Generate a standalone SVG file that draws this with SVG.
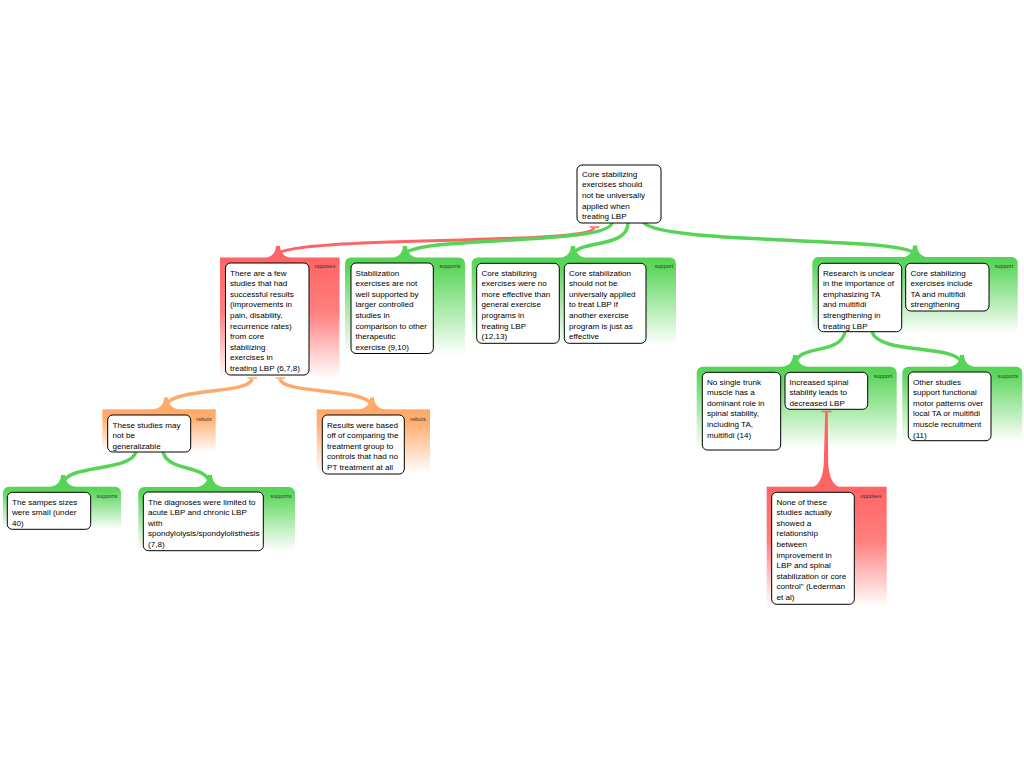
<svg xmlns="http://www.w3.org/2000/svg" width="1024" height="768" viewBox="0 0 1024 768">
<defs>
<linearGradient id="gR" x1="0" y1="0" x2="0" y2="1"><stop offset="0" stop-color="#ff6464"/><stop offset="0.45" stop-color="#ff7f7f"/><stop offset="1" stop-color="#ffffff"/></linearGradient>
<linearGradient id="gG" x1="0" y1="0" x2="0" y2="1"><stop offset="0" stop-color="#55d455"/><stop offset="0.1" stop-color="#5cd65c"/><stop offset="1" stop-color="#ffffff"/></linearGradient>
<linearGradient id="gO" x1="0" y1="0" x2="0" y2="1"><stop offset="0" stop-color="#ffa868"/><stop offset="0.2" stop-color="#ffae70"/><stop offset="1" stop-color="#ffffff"/></linearGradient>
<style>
.n{fill:#fff;stroke:#000;stroke-width:1}
.t{font-family:"Liberation Sans",Arial,sans-serif;font-size:8.1px;fill:#000}
.l{font-family:"Liberation Sans",Arial,sans-serif;font-size:5.5px;fill:#333;text-anchor:middle}
.cr{fill:url(#gR)}.cg{fill:url(#gG)}.co{fill:url(#gO)}
.er{fill:none;stroke:#ff6464;stroke-width:3}
.eg{fill:none;stroke:#55d455;stroke-width:3.5}
.eo{fill:none;stroke:#ffaa6c;stroke-width:3.5}
.fr{fill:#ff6464}.fg{fill:#55d455}.fo{fill:#ffaa6c}
.br{stroke:#ff6464;stroke-width:1.5}.bo{stroke:#ffaa6c;stroke-width:1.5}
</style>
</defs>
<rect width="1024" height="768" fill="#fff"/>

<g id="containers">
<rect class="cr" x="220" y="257.5" width="119.5" height="121"/>
<rect class="cg" x="345" y="257.5" width="120" height="98" rx="6"/>
<rect class="cg" x="471.7" y="257.5" width="204.3" height="88" rx="6"/>
<rect class="cg" x="812.3" y="257" width="205.4" height="77" rx="6"/>
<rect class="co" x="102.3" y="409.3" width="113.4" height="43"/>
<rect class="co" x="316.7" y="409.3" width="113.3" height="65"/>
<rect class="cg" x="3" y="486.7" width="118" height="43" rx="6"/>
<rect class="cg" x="138.3" y="487" width="156.7" height="64" rx="6"/>
<rect class="cg" x="696.7" y="366.7" width="200" height="82" rx="6"/>
<rect class="cg" x="902.3" y="366.7" width="120" height="75" rx="6"/>
<rect class="cr" x="766.7" y="486.7" width="120" height="120"/>
<text class="l" x="325" y="268">opposes</text>
<text class="l" x="450" y="268">supports</text>
<text class="l" x="664" y="268">support</text>
<text class="l" x="1004" y="268">support</text>
<text class="l" x="204" y="421">rebuts</text>
<text class="l" x="418" y="421">rebuts</text>
<text class="l" x="107" y="497.5">supports</text>
<text class="l" x="281" y="497.5">supports</text>
<text class="l" x="883" y="377.5">support</text>
<text class="l" x="1008" y="377.5">supports</text>
<text class="l" x="871" y="497.5">opposes</text>
</g>

<g id="connectors">
<path class="er" d="M594,228 C590,245 290,236 278,254"/>
<path class="fr" d="M262,258.5 Q275.5,257.5 276,246 L280,246 Q280.5,257.5 294,258.5 Z"/>
<line class="br" x1="589.5" y1="227" x2="599.5" y2="227"/>
<path class="eg" d="M612,223 C608,245 415,236 405,254"/>
<path class="fg" d="M389,258.5 Q402.5,257.5 403,246 L407,246 Q407.5,257.5 421,258.5 Z"/>
<path class="eg" d="M628,223 C628,248 580,240 573,254"/>
<path class="fg" d="M557,258.5 Q570.5,257.5 571,246 L575,246 Q575.5,257.5 589,258.5 Z"/>
<path class="eg" d="M643,222 C660,245 905,236 915,254"/>
<path class="fg" d="M899,258 Q912.5,257 913,245.5 L917,245.5 Q917.5,257 931,258 Z"/>
<path class="eo" d="M252,379 C250,394 172,388 166,405"/>
<path class="fo" d="M150,410 Q163.5,409 164,397.5 L168,397.5 Q168.5,409 182,410 Z"/>
<line class="bo" x1="247.5" y1="378" x2="257" y2="378"/>
<path class="eo" d="M280,379 C282,394 366,388 372,405"/>
<path class="fo" d="M356,410 Q369.5,409 370,397.5 L374,397.5 Q374.5,409 388,410 Z"/>
<line class="bo" x1="275.5" y1="378" x2="285" y2="378"/>
<path class="eg" d="M136,452 C130,472 68,464 63,483"/>
<path class="fg" d="M47,487.5 Q60.5,486.5 61,475 L65,475 Q65.5,486.5 79,487.5 Z"/>
<path class="eg" d="M163,452 C168,472 205,464 210,483"/>
<path class="fg" d="M194,487.5 Q207.5,486.5 208,475 L212,475 Q212.5,486.5 226,487.5 Z"/>
<path class="eg" d="M845,332 C840,355 800,344 795,363"/>
<path class="fg" d="M779,367.5 Q792.5,366.5 793,355 L797,355 Q797.5,366.5 811,367.5 Z"/>
<path class="eg" d="M872,332 C880,355 956,344 962,363"/>
<path class="fg" d="M946,367.5 Q959.5,366.5 960,355 L964,355 Q964.5,366.5 978,367.5 Z"/>
<path class="fr" d="M825.2,412 L827.8,412 L828.2,462 Q829,484 840,487.5 L812,487.5 Q823,484 823.8,462 Z"/>
<line class="br" x1="821.5" y1="411.5" x2="831.5" y2="411.5"/>
</g>

<g id="root">
<rect class="n" x="577" y="165" width="84" height="58" rx="5"/>
<text class="t" x="582" y="176.5">Core stabilizing<tspan x="582" dy="10.7">exercises should</tspan><tspan x="582" dy="10.7">not be universally</tspan><tspan x="582" dy="10.7">applied when</tspan><tspan x="582" dy="10.7">treating LBP</tspan></text>
</g>

<g id="n-opp1">
<rect class="n" x="225.5" y="263" width="83.5" height="112" rx="5"/>
<text class="t" x="230" y="275.5">There are a few<tspan x="230" dy="10.6">studies that had</tspan><tspan x="230" dy="10.6">successful results</tspan><tspan x="230" dy="10.6">(improvements in</tspan><tspan x="230" dy="10.6">pain, disability,</tspan><tspan x="230" dy="10.6">recurrence rates)</tspan><tspan x="230" dy="10.6">from core</tspan><tspan x="230" dy="10.6">stabilizing</tspan><tspan x="230" dy="10.6">exercises in</tspan><tspan x="230" dy="10.6">treating LBP (6,7,8)</tspan></text>
</g>

<g id="n-sup2">
<rect class="n" x="351" y="263" width="82.3" height="90.5" rx="5"/>
<text class="t" x="355.5" y="275.5">Stabilization<tspan x="355.5" dy="10.6">exercises are not</tspan><tspan x="355.5" dy="10.6">well supported by</tspan><tspan x="355.5" dy="10.6">larger controlled</tspan><tspan x="355.5" dy="10.6">studies in</tspan><tspan x="355.5" dy="10.6">comparison to other</tspan><tspan x="355.5" dy="10.6">therapeutic</tspan><tspan x="355.5" dy="10.6">exercise (9,10)</tspan></text>
</g>

<g id="n-sup3a">
<rect class="n" x="476.7" y="263.3" width="82.6" height="80" rx="5"/>
<text class="t" x="481.5" y="275.5">Core stabilizing<tspan x="481.5" dy="10.6">exercises were no</tspan><tspan x="481.5" dy="10.6">more effective than</tspan><tspan x="481.5" dy="10.6">general exercise</tspan><tspan x="481.5" dy="10.6">programs in</tspan><tspan x="481.5" dy="10.6">treating LBP</tspan><tspan x="481.5" dy="10.6">(12,13)</tspan></text>
</g>

<g id="n-sup3b">
<rect class="n" x="564.3" y="263.3" width="81.7" height="80" rx="5"/>
<text class="t" x="569" y="275.5">Core stabilization<tspan x="569" dy="10.6">should not be</tspan><tspan x="569" dy="10.6">universally applied</tspan><tspan x="569" dy="10.6">to treat LBP if</tspan><tspan x="569" dy="10.6">another exercise</tspan><tspan x="569" dy="10.6">program is just as</tspan><tspan x="569" dy="10.6">effective</tspan></text>
</g>

<g id="n-sup4a">
<rect class="n" x="818.3" y="263.3" width="83.4" height="68.4" rx="5"/>
<text class="t" x="823" y="275.5">Research is unclear<tspan x="823" dy="10.6">in the importance of</tspan><tspan x="823" dy="10.6">emphasizing TA</tspan><tspan x="823" dy="10.6">and multifidi</tspan><tspan x="823" dy="10.6">strengthening in</tspan><tspan x="823" dy="10.6">treating LBP</tspan></text>
</g>

<g id="n-sup4b">
<rect class="n" x="905.7" y="263.3" width="83.3" height="47.7" rx="5"/>
<text class="t" x="910.5" y="275.5">Core stabilizing<tspan x="910.5" dy="10.6">exercises include</tspan><tspan x="910.5" dy="10.6">TA and multifidi</tspan><tspan x="910.5" dy="10.6">strengthening</tspan></text>
</g>

<g id="n-reb1">
<rect class="n" x="107.7" y="415" width="83" height="37" rx="5"/>
<text class="t" x="112.5" y="427.5">These studies may<tspan x="112.5" dy="10.6">not be</tspan><tspan x="112.5" dy="10.6">generalizable</tspan></text>
</g>

<g id="n-reb2">
<rect class="n" x="322.3" y="415" width="82" height="59" rx="5"/>
<text class="t" x="327" y="427.5">Results were based<tspan x="327" dy="10.6">off of comparing the</tspan><tspan x="327" dy="10.6">treatment group to</tspan><tspan x="327" dy="10.6">controls that had no</tspan><tspan x="327" dy="10.6">PT treatment at all</tspan></text>
</g>

<g id="n-bs1">
<rect class="n" x="7.3" y="492.3" width="83.4" height="37" rx="5"/>
<text class="t" x="12" y="504.5">The sampes sizes<tspan x="12" dy="10.6">were small (under</tspan><tspan x="12" dy="10.6">40)</tspan></text>
</g>

<g id="n-bs2">
<rect class="n" x="143.3" y="492" width="120" height="58.7" rx="5"/>
<text class="t" x="148" y="504.5">The diagnoses were limited to<tspan x="148" dy="10.6">acute LBP and chronic LBP</tspan><tspan x="148" dy="10.6">with</tspan><tspan x="148" dy="10.6">spondylolysis/spondylolisthesis</tspan><tspan x="148" dy="10.6">(7,8)</tspan></text>
</g>

<g id="n-r1a">
<rect class="n" x="702.3" y="372.3" width="78.4" height="77.7" rx="5"/>
<text class="t" x="707" y="384.5">No single trunk<tspan x="707" dy="10.6">muscle has a</tspan><tspan x="707" dy="10.6">dominant role in</tspan><tspan x="707" dy="10.6">spinal stability,</tspan><tspan x="707" dy="10.6">including TA,</tspan><tspan x="707" dy="10.6">multifidi (14)</tspan></text>
</g>

<g id="n-r1b">
<rect class="n" x="785" y="372.3" width="82.7" height="37" rx="5"/>
<text class="t" x="789.5" y="384.5">Increased spinal<tspan x="789.5" dy="10.6">stability leads to</tspan><tspan x="789.5" dy="10.6">decreased LBP</tspan></text>
</g>

<g id="n-r2">
<rect class="n" x="908.3" y="372" width="82.7" height="68.7" rx="5"/>
<text class="t" x="913" y="384.5">Other studies<tspan x="913" dy="10.6">support functional</tspan><tspan x="913" dy="10.6">motor patterns over</tspan><tspan x="913" dy="10.6">local TA or multifidi</tspan><tspan x="913" dy="10.6">muscle recruitment</tspan><tspan x="913" dy="10.6">(11)</tspan></text>
</g>

<g id="n-opp2">
<rect class="n" x="771.7" y="492.3" width="82.6" height="112" rx="5"/>
<text class="t" x="776.5" y="504.5">None of these<tspan x="776.5" dy="10.6">studies actually</tspan><tspan x="776.5" dy="10.6">showed a</tspan><tspan x="776.5" dy="10.6">relationship</tspan><tspan x="776.5" dy="10.6">between</tspan><tspan x="776.5" dy="10.6">improvement in</tspan><tspan x="776.5" dy="10.6">LBP and spinal</tspan><tspan x="776.5" dy="10.6">stabilization or core</tspan><tspan x="776.5" dy="10.6">control" (Lederman</tspan><tspan x="776.5" dy="10.6">et al)</tspan></text>
</g>
</svg>
